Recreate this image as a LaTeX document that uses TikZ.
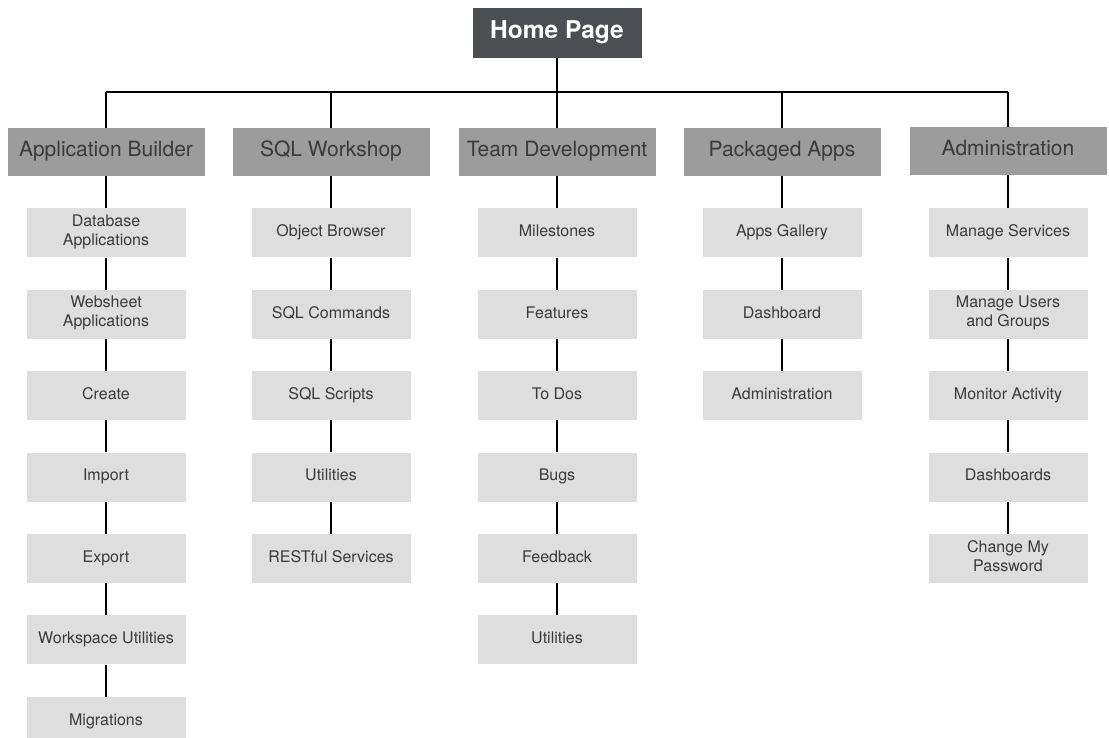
\documentclass[tikz,border=0pt]{standalone}
\usepackage{fontspec}
\setmainfont{TeX Gyre Heros}
\usepackage{tikz}
\usetikzlibrary{positioning}
\definecolor{homegray}{RGB}{75, 78, 83}
\definecolor{headgray}{RGB}{155, 156, 155}
\definecolor{itemgray}{RGB}{222, 222, 222}
\definecolor{textgray}{RGB}{58, 58, 58}

\begin{document}
\begin{tikzpicture}[x=1pt, y=-1pt, node distance=32pt, every node/.style={align=center, text=textgray, inner sep=2pt},
    homebox/.style={rectangle, fill=homegray, text=white, font=\fontsize{24.5}{28}\selectfont\bfseries, minimum width=169pt, minimum height=50pt},
    headbox/.style={rectangle, fill=headgray, font=\fontsize{21}{24}\selectfont, minimum width=197pt, minimum height=48pt},
    pagebox/.style={rectangle, fill=itemgray, font=\fontsize{16}{19}\selectfont, minimum width=159pt, minimum height=49pt},
    execute at begin node=\strut, execute at end node=\strut,
    wire/.style={line width=2.7pt}]
        \useasboundingbox (0,0) rectangle (1109,737);
        % top level
        \node (home) [homebox] at (557,33) {Home Page};
        \coordinate (bus) at (0,92);
        % sections
        \node (ab) [headbox] at (106,152) {Application Builder};
        \node (sql) [headbox] at (331,152) {SQL Workshop};
        \node (team) [headbox] at (557,152) {Team Development};
        \node (pkg) [headbox] at (782,152) {Packaged Apps};
        \node (adm) [headbox] at (1008,151) {Administration};
        % Application Builder
        \node (ab1) [pagebox, below=of ab] {Database\\Applications};
        \node (ab2) [pagebox, below=of ab1] {Websheet\\Applications};
        \node (ab3) [pagebox, below=of ab2] {Create};
        \node (ab4) [pagebox, below=of ab3] {Import};
        \node (ab5) [pagebox, below=of ab4] {Export};
        \node (ab6) [pagebox, below=of ab5] {Workspace Utilities};
        \node (ab7) [pagebox, below=of ab6] {Migrations};
        % SQL Workshop
        \node (sql1) [pagebox, below=of sql] {Object Browser};
        \node (sql2) [pagebox, below=of sql1] {SQL Commands};
        \node (sql3) [pagebox, below=of sql2] {SQL Scripts};
        \node (sql4) [pagebox, below=of sql3] {Utilities};
        \node (sql5) [pagebox, below=of sql4] {RESTful Services};
        % Team Development
        \node (team1) [pagebox, below=of team] {Milestones};
        \node (team2) [pagebox, below=of team1] {Features};
        \node (team3) [pagebox, below=of team2] {To Dos};
        \node (team4) [pagebox, below=of team3] {Bugs};
        \node (team5) [pagebox, below=of team4] {Feedback};
        \node (team6) [pagebox, below=of team5] {Utilities};
        % Packaged Apps
        \node (pkg1) [pagebox, below=of pkg] {Apps Gallery};
        \node (pkg2) [pagebox, below=of pkg1] {Dashboard};
        \node (pkg3) [pagebox, below=of pkg2] {Administration};
        % Administration
        \node (adm1) [pagebox, below=of adm, yshift=-1pt] {Manage Services};
        \node (adm2) [pagebox, below=of adm1] {Manage Users\\and Groups};
        \node (adm3) [pagebox, below=of adm2] {Monitor Activity};
        \node (adm4) [pagebox, below=of adm3] {Dashboards};
        \node (adm5) [pagebox, below=of adm4] {Change My\\Password};
        % connectors
        \draw[wire] (home) -- (home |- bus);
        \draw[wire] (ab |- bus) -- (adm |- bus);
        \draw[wire] (ab |- bus) -- (ab);
        \draw[wire] (sql |- bus) -- (sql);
        \draw[wire] (team |- bus) -- (team);
        \draw[wire] (pkg |- bus) -- (pkg);
        \draw[wire] (adm |- bus) -- (adm);
        \draw[wire] (ab) -- (ab1) -- (ab2) -- (ab3) -- (ab4) -- (ab5) -- (ab6) -- (ab7);
        \draw[wire] (sql) -- (sql1) -- (sql2) -- (sql3) -- (sql4) -- (sql5);
        \draw[wire] (team) -- (team1) -- (team2) -- (team3) -- (team4) -- (team5) -- (team6);
        \draw[wire] (pkg) -- (pkg1) -- (pkg2) -- (pkg3);
        \draw[wire] (adm) -- (adm1) -- (adm2) -- (adm3) -- (adm4) -- (adm5);
\end{tikzpicture}
\end{document}
